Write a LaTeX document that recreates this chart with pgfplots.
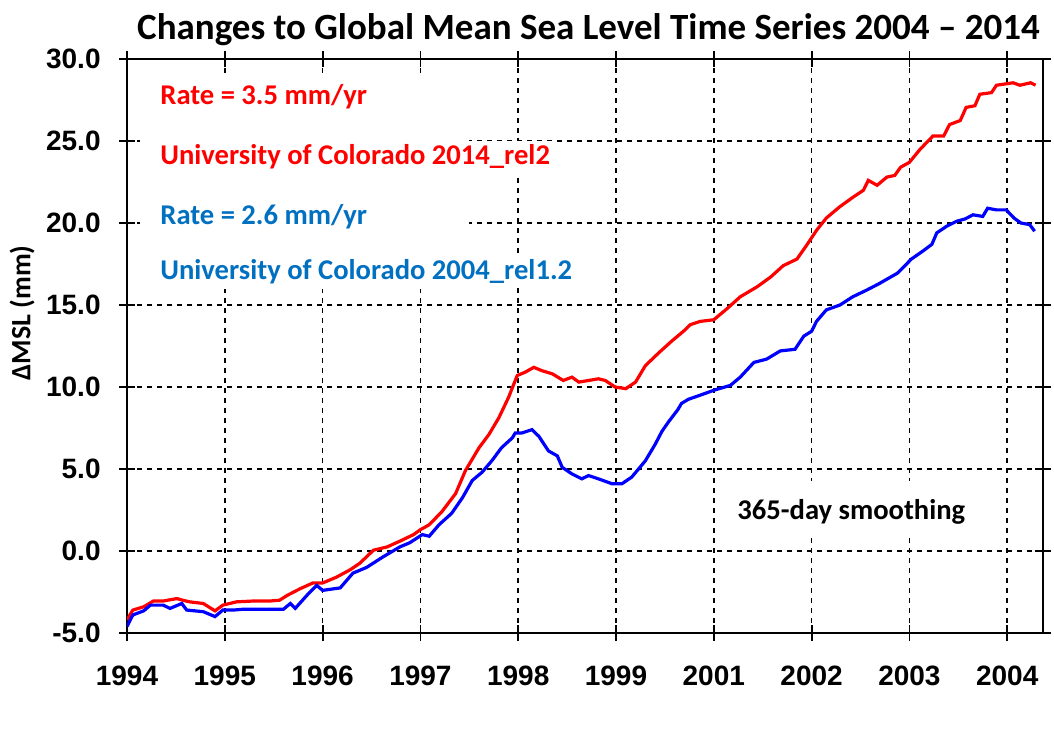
\documentclass[border=0pt]{standalone}
\usepackage{fontspec}
\setmainfont{Liberation Sans}
\newfontfamily\calib{Carlito}
\usepackage{pgfplots}
\pgfplotsset{compat=1.18}
\definecolor{txtblue}{RGB}{0,112,192}
\begin{document}
\begin{tikzpicture}
\useasboundingbox (-63.5pt,-51pt) rectangle (463.5pt,316.5pt);
\begin{axis}[
  scale only axis, width=458pt, height=287pt,
  at={(0,0)}, anchor=south west,
  xmin=0, xmax=9.366, ymin=-5, ymax=30,
  xtick={0,...,9},
  xticklabels={1994,1995,1996,1997,1998,1999,2001,2002,2003,2004},
  ytick={-5,0,5,10,15,20,25,30},
  yticklabel={\pgfmathprintnumber[fixed,fixed zerofill,precision=1]{\tick}},
  /pgf/number format/assume math mode=true,
  tick label style={font=\fontsize{14}{14}\selectfont\bfseries, inner sep=0pt},
  xticklabel shift=12.5pt, yticklabel shift=9pt,
  tick align=center, major tick length=8pt,
  tick style={black, line width=0.9pt},
  axis line style={black, line width=1pt},
  grid=major,
  major grid style={black, dash pattern=on 2.5pt off 2.5pt, line width=0.8pt},
  clip=true,
]
\fill[white] (axis cs:0.13,16.0) rectangle (axis cs:3.5,28.9);
\fill[white] (axis cs:6.1,1.0) rectangle (axis cs:8.7,4.25);
\addplot[red, line width=1.6pt] coordinates {
(0,-4.2)(0.06,-3.6)(0.17,-3.4)(0.27,-3.05)(0.37,-3.05)(0.51,-2.9)(0.57,-3.0)(0.64,-3.1)(0.78,-3.2)(0.90,-3.65)(0.98,-3.3)(1.12,-3.1)(1.29,-3.05)(1.46,-3.05)(1.56,-3.0)(1.64,-2.7)(1.77,-2.3)(1.90,-1.95)(2.0,-1.95)(2.14,-1.6)(2.28,-1.15)(2.38,-0.75)(2.52,0.05)(2.66,0.25)(2.79,0.6)(2.93,1.0)(3.0,1.3)(3.09,1.6)(3.22,2.4)(3.36,3.5)(3.46,4.9)(3.60,6.3)(3.70,7.1)(3.80,8.1)(3.90,9.35)(3.99,10.7)(4.07,10.9)(4.16,11.2)(4.24,11.0)(4.35,10.8)(4.46,10.4)(4.55,10.6)(4.62,10.3)(4.72,10.4)(4.82,10.5)(4.89,10.4)(4.99,10.0)(5.10,9.9)(5.20,10.3)(5.30,11.3)(5.44,12.1)(5.57,12.8)(5.69,13.4)(5.76,13.8)(5.86,14.0)(6.0,14.1)(6.14,14.8)(6.27,15.5)(6.44,16.1)(6.58,16.7)(6.71,17.4)(6.85,17.8)(6.95,18.65)(7.05,19.55)(7.15,20.3)(7.29,21.0)(7.43,21.6)(7.53,22.0)(7.58,22.6)(7.67,22.3)(7.77,22.8)(7.85,22.9)(7.91,23.4)(8.0,23.7)(8.11,24.5)(8.24,25.3)(8.35,25.3)(8.41,26.0)(8.52,26.25)(8.58,27.05)(8.67,27.15)(8.72,27.85)(8.84,27.95)(8.89,28.4)(9.06,28.55)(9.13,28.4)(9.24,28.55)(9.29,28.4)
};
\addplot[blue, line width=1.6pt] coordinates {
(0,-4.6)(0.06,-3.9)(0.17,-3.65)(0.24,-3.3)(0.37,-3.3)(0.44,-3.5)(0.56,-3.2)(0.61,-3.6)(0.78,-3.7)(0.90,-4.0)(0.98,-3.6)(1.09,-3.6)(1.19,-3.55)(1.6,-3.55)(1.67,-3.2)(1.72,-3.5)(1.84,-2.7)(1.94,-2.1)(2.0,-2.4)(2.18,-2.25)(2.31,-1.35)(2.45,-1.0)(2.62,-0.35)(2.79,0.25)(2.89,0.5)(3.02,1.0)(3.09,0.9)(3.19,1.6)(3.32,2.3)(3.43,3.25)(3.53,4.3)(3.63,4.8)(3.73,5.5)(3.83,6.3)(3.94,6.9)(3.97,7.2)(4.04,7.2)(4.14,7.4)(4.21,7.0)(4.31,6.1)(4.40,5.8)(4.45,5.1)(4.55,4.7)(4.65,4.4)(4.72,4.6)(4.82,4.4)(4.96,4.1)(5.06,4.1)(5.16,4.5)(5.30,5.5)(5.40,6.5)(5.47,7.3)(5.54,7.9)(5.63,8.6)(5.67,9.0)(5.74,9.25)(5.86,9.5)(6.0,9.8)(6.17,10.1)(6.27,10.6)(6.41,11.5)(6.54,11.7)(6.68,12.2)(6.83,12.3)(6.92,13.1)(7.0,13.4)(7.05,14.0)(7.15,14.7)(7.29,15.0)(7.42,15.5)(7.56,15.9)(7.69,16.3)(7.88,16.95)(8.02,17.8)(8.14,18.3)(8.23,18.7)(8.28,19.4)(8.38,19.8)(8.48,20.1)(8.57,20.25)(8.65,20.5)(8.75,20.4)(8.80,20.9)(8.89,20.8)(8.99,20.8)(9.07,20.3)(9.14,20.0)(9.23,19.9)(9.28,19.5)
};
\end{axis}
\begin{scope}[every node/.style={font=\calib\fontsize{14.3}{14.3}\selectfont\bfseries, inner sep=2pt, fill=white, anchor=west}]
\node[text=red] at (14.5pt,268pt) {Rate = 3.5 mm/yr};
\node[text=red] at (14.5pt,238pt) {University of Colorado 2014\_rel2};
\node[text=txtblue] at (14.5pt,208pt) {Rate = 2.6 mm/yr};
\node[text=txtblue] at (14.5pt,180.5pt) {University of Colorado 2004\_rel1.2};
\node[text=black] at (303pt,60.5pt) {365-day smoothing};
\end{scope}
\node[font=\calib\fontsize{18.5}{18.5}\selectfont\bfseries, inner sep=0pt] at (230.75pt,301.5pt) {Changes to Global Mean Sea Level Time Series 2004 – 2014};
\node[font=\calib\fontsize{14}{14}\selectfont\bfseries, inner sep=0pt, rotate=90] at (-52.5pt,160pt) {ΔMSL (mm)};
\end{tikzpicture}
\end{document}
